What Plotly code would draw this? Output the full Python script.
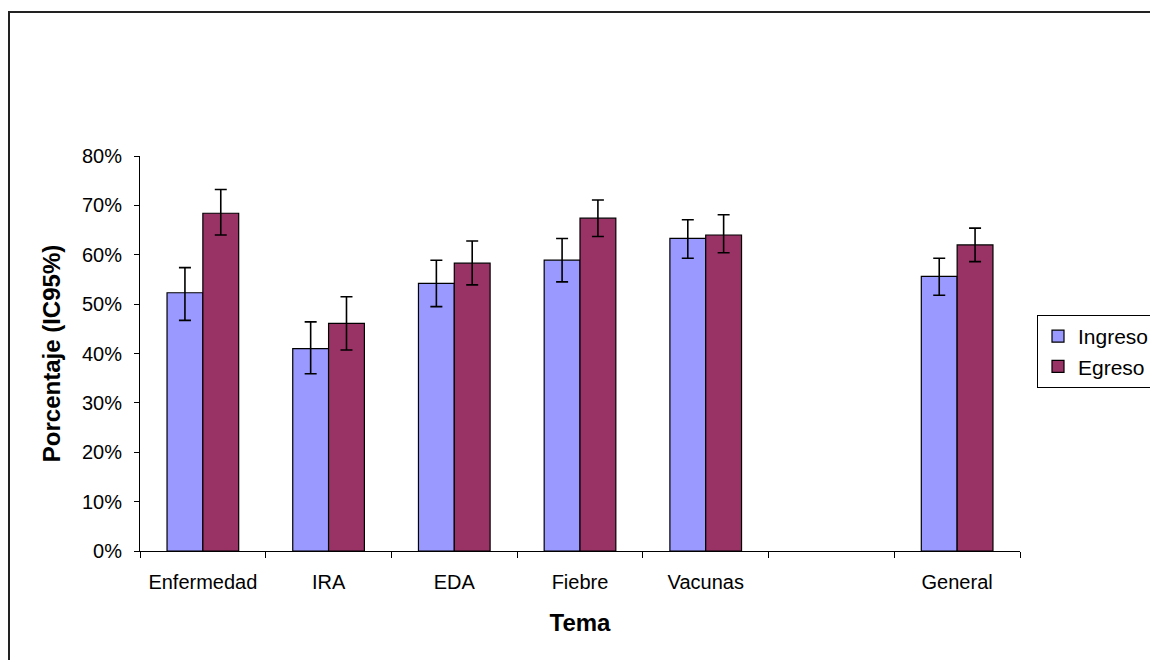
import plotly.graph_objects as go

categories = ["Enfermedad", "IRA", "EDA", "Fiebre", "Vacunas", " ", "General"]
ingreso = [0.523, 0.410, 0.542, 0.589, 0.633, None, 0.556]
ingreso_hi = [0.574, 0.464, 0.589, 0.633, 0.671, None, 0.593]
ingreso_lo = [0.467, 0.359, 0.495, 0.545, 0.593, None, 0.518]
egreso = [0.684, 0.461, 0.583, 0.674, 0.640, None, 0.620]
egreso_hi = [0.732, 0.515, 0.628, 0.711, 0.681, None, 0.654]
egreso_lo = [0.640, 0.407, 0.539, 0.637, 0.604, None, 0.586]


def plus(v, hi):
    return [None if a is None else b - a for a, b in zip(v, hi)]


def minus(v, lo):
    return [None if a is None else a - b for a, b in zip(v, lo)]


FONT = "Liberation Sans, Arial, sans-serif"

fig = go.Figure()
fig.add_trace(go.Bar(
    name="Ingreso", x=categories, y=ingreso,
    marker=dict(color="#9999FF", line=dict(color="black", width=1.2)),
    error_y=dict(type="data", symmetric=False,
                 array=plus(ingreso, ingreso_hi),
                 arrayminus=minus(ingreso, ingreso_lo),
                 color="black", thickness=1.6, width=6),
))
fig.add_trace(go.Bar(
    name="Egreso", x=categories, y=egreso,
    marker=dict(color="#993366", line=dict(color="black", width=1.2)),
    error_y=dict(type="data", symmetric=False,
                 array=plus(egreso, egreso_hi),
                 arrayminus=minus(egreso, egreso_lo),
                 color="black", thickness=1.6, width=6),
))

# page body has an 8px margin; target screen coords minus 8
OFF = 8
FW, FH = 1158 - OFF, 660 - OFF
L, R, T, B = 140 - OFF, 1020 - OFF, 156 - OFF, 551 - OFF
W, H = R - L, B - T


def px(x):
    return (x - OFF - L) / W


def py(y):
    return (B - (y - OFF)) / H


fig.update_layout(
    width=FW, height=FH,
    margin=dict(l=L, r=FW - R, t=T, b=FH - B, autoexpand=False),
    paper_bgcolor="white", plot_bgcolor="white",
    barmode="group", bargap=0.43, bargroupgap=0,
    font=dict(family=FONT, color="black", size=20),
    showlegend=True,
    legend=dict(x=px(1037), y=py(315), xanchor="left", yanchor="top",
                bordercolor="black", borderwidth=1,
                font=dict(size=21, family=FONT, color="black"),
                bgcolor="white", itemclick=False, itemwidth=30),
    xaxis=dict(
        type="category", categoryorder="array", categoryarray=categories,
        showline=True, linecolor="black", linewidth=1,
        ticks="outside", tickson="boundaries", ticklen=6, tickcolor="black",
        tickfont=dict(size=20, family=FONT, color="black"),
        ticklabelstandoff=13,
        showgrid=False, zeroline=False,
        title=dict(text="<b>Tema</b>", font=dict(size=24, family=FONT, color="black"),
                   standoff=22),
    ),
    yaxis=dict(
        range=[0, 0.8], dtick=0.1, tickformat=".0%",
        showline=True, linecolor="black", linewidth=1,
        ticks="outside", ticklen=5, tickcolor="black",
        tickfont=dict(size=20, family=FONT, color="black"),
        ticklabelstandoff=8,
        showgrid=False, zeroline=False,
        title=dict(text="<b>Porcentaje (IC95%)</b>",
                   font=dict(size=24, family=FONT, color="black"), standoff=14),
    ),
    shapes=[dict(type="rect", xref="paper", yref="paper",
                 x0=px(9), x1=px(1180), y0=py(690), y1=py(12),
                 line=dict(color="#222222", width=2), layer="below")],
)

fig.write_html("out.html")
